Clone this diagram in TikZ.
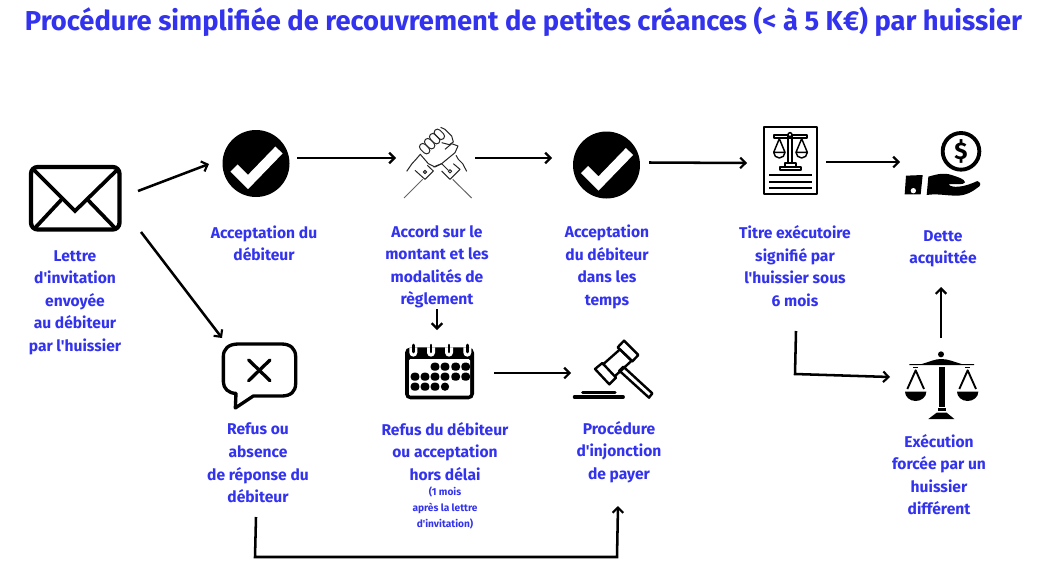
\documentclass[tikz,border=0pt]{standalone}
\usepackage{fontspec}
\newfontfamily\fira{Fira Sans}
\usetikzlibrary{arrows.meta}
\definecolor{tblue}{RGB}{51,51,238}
\tikzset{
  x=.75pt,y=-.75pt,
  lab/.style={inner sep=0pt,align=center,text=tblue,font=\fira\bfseries\fontsize{11.7pt}{16.9pt}\selectfont},
  smalllab/.style={inner sep=0pt,align=center,text=tblue,font=\fira\bfseries\fontsize{7.6pt}{12.2pt}\selectfont},
  iconbox/.style={inner sep=0pt,minimum width=#1,minimum height=#1},
  conn/.style={line width=1.9pt,-{Straight Barb[length=4pt,width=8pt,line width=1.6pt]}},
  ic/.style={scale=1/3,line join=round},
}
\newcommand{\checkicon}{
  \fill[black] (0,0) circle (33.5);
  \draw[white,line width=7.5pt,line join=miter] (-22,4.5) -- (-8,18.5) -- (23,-13.5);
}
\begin{document}
\begin{tikzpicture}
\useasboundingbox (0,0) rectangle (1041,579);
\fill[white] (0,0) rectangle (1041,579);
% title
\node[inner sep=0pt,text=tblue,font=\fira\bfseries\fontsize{20.5pt}{24pt}\selectfont] (title) at (523.5,22) {Procédure simplifiée de recouvrement de petites créances (< à 5 K€) par huissier};

% icon anchors
\node[iconbox=66] (mail) at (75,198) {};
\node[iconbox=67] (chkA) at (256,164) {};
\node[iconbox=70] (hands) at (437,162) {};
\node[iconbox=67] (chkB) at (606.5,165) {};
\node[iconbox=67] (doc) at (790.5,160.5) {};
\node[iconbox=70] (coin) at (943,166) {};
\node[iconbox=70] (bubble) at (259,375) {};
\node[iconbox=60] (cal) at (440,373) {};
\node[iconbox=70] (gavel) at (613,370) {};
\node[iconbox=70] (scales) at (941,385) {};

% envelope
\draw[line width=3.2pt,rounded corners=5] (31,167) rectangle (119.5,229.5);
\draw[line width=2.8pt,line join=miter] (34,170) -- (75,211) -- (117,170);
\draw[line width=2.8pt] (62,199) -- (35,228);
\draw[line width=2.8pt] (87,199) -- (115,228);

% checks
\begin{scope}[shift={(256,163.5)}]\checkicon\end{scope}
\begin{scope}[shift={(606.5,165)}]\checkicon\end{scope}

% hands
\begin{scope}[shift={(400,122)},ic,line width=.75pt,draw=black!85]
  \draw[black!60] (12,228) -- (68,172);
  \draw[black!60] (215,228) -- (158,172);
  \draw (45,145) -- (75,172) -- (100,147) -- (82,130);
  \draw (125,147) -- (150,172) -- (180,142) -- (160,125);
  \draw (75,150) circle (5);
  \draw (150,148) circle (5);
  \draw (20,148) -- (36,125) -- (48,112) -- (60,98);
  \draw (200,148) -- (188,125) -- (175,112) -- (168,100);
  \foreach \cx/\cy in {74/80,89/65,104/50,118/37}
    {\draw[rotate around={-45:(\cx,\cy)},rounded corners=2.5pt] (\cx-18,\cy-10) rectangle (\cx+18,\cy+10);}
  \draw (122,16) -- (135,22) -- (155,42) -- (160,60) -- (148,68) -- (125,62);
  \draw (60,96) -- (85,125) -- (105,135) -- (125,125) -- (165,92) -- (174,72) -- (155,65) -- (135,82);
  \draw (100,135) -- (125,125) -- (145,145);
\end{scope}

% document
\begin{scope}[shift={(755,120)},ic,line width=1.2pt]
  \draw (27,21) rectangle (186,222);
  \draw[line width=1.4pt] (58,44) rectangle (155,55);
  \draw[line width=1.3pt] (100,44) rectangle (111,128);
  \draw[line width=1.3pt] (76,140) rectangle (137,150);
  \draw[line width=1.3pt] (90,128) rectangle (122,140);
  \fill[white,draw=black,line width=1.1pt] (105,44) circle (6);
  \foreach \cx in {73,140}{
    \draw[line width=1.1pt] (\cx,56) -- (\cx-17,97) -- (\cx+17,97) -- cycle;
    \draw[line width=1.1pt] (\cx-17,97) arc[start angle=180,end angle=0,radius=17];
  }
  \foreach \yy in {165,185,205} {\draw[line width=1.4pt] (42,\yy) -- (170,\yy);}
\end{scope}

% coin and hand
\begin{scope}[shift={(900,125)},ic]
  \draw[line width=2.9pt] (183,79) circle (55);
  \node[inner sep=0pt,font=\fira\bfseries\fontsize{18pt}{18pt}\selectfont] (dollar) at (183,80) {\$};
  \fill (18,152) -- (68,150) -- (62,208) -- (14,208) -- cycle;
  \fill[white] (40,197) circle (8);
  \fill (85,155) .. controls (110,148) and (130,142) .. (155,150) .. controls (170,155) and (195,162) .. (195,172) .. controls (190,182) and (165,175) .. (145,178) .. controls (155,190) and (190,188) .. (232,168) .. controls (240,168) and (244,178) .. (238,184) .. controls (220,198) and (200,212) .. (170,212) .. controls (140,212) and (110,205) .. (80,210) -- cycle;
\end{scope}

% speech bubble
\begin{scope}[shift={(200,330)},ic]
  \draw[line width=2.5pt,line join=round]
    (115,42) -- (245,42) .. controls (272,42) and (287,57) .. (287,80) -- (287,160) .. controls (287,185) and (272,198) .. (245,198) -- (160,198) -- (106,234) -- (108,190) .. controls (85,190) and (70,175) .. (70,155) -- (70,80) .. controls (70,57) and (85,42) .. (115,42) -- cycle;
  \draw[line width=2.5pt,line cap=round] (146,90) -- (210,152);
  \draw[line width=2.5pt,line cap=round] (210,90) -- (146,152);
\end{scope}

% calendar
\begin{scope}[shift={(400,340)},ic]
  \fill[rounded corners=4pt] (15,22) rectangle (222,178);
  \fill[white,rounded corners=1pt] (27,57) rectangle (210,167);
  \foreach \xx in {40,93,147,202}{
    \fill[white] (\xx-12,22) -- (\xx-12,38) arc[start angle=180,end angle=0,radius=12] -- (\xx+12,22) -- cycle;
    \draw[line width=1.9pt,line cap=round] (\xx,15) -- (\xx,36);
  }
  \foreach \xx in {105,135,167,197} {\fill[rounded corners=2.5pt] (\xx-13,68) rectangle (\xx+13,92);}
  \foreach \xx in {45,75,105,135,167,197} {\fill[rounded corners=2.5pt] (\xx-13,98) rectangle (\xx+13,122);}
  \foreach \xx in {45,75,105} {\fill[rounded corners=2.5pt] (\xx-13,128) rectangle (\xx+13,152);}
  \fill (135,140) circle (12.5);
\end{scope}

% gavel
\begin{scope}[shift={(480,330)},ic,line width=1.8pt]
  \draw[line width=2.3pt,line cap=round] (283,201) -- (430,201);
  \draw[line width=2.3pt,line cap=round] (308,187) -- (405,187);
  \draw (345,117) -- (367,99) -- (408,143) -- (388,163) -- cycle;
  \draw (413,52) -- (432,32) -- (475,75) -- (457,94) -- cycle;
  \draw (367,105) -- (420,58) -- (455,92) -- (403,140);
  \draw (418,122) -- (430,110) -- (517,190) -- (507,203) -- cycle;
\end{scope}

% big scales
\begin{scope}[shift={(900,345)},ic]
  \fill (123,28) circle (9);
  \fill (28,57) -- (65,57) .. controls (90,50) and (105,42) .. (123,42) .. controls (145,42) and (160,50) .. (185,57) -- (222,57) -- (222,60) -- (28,60) -- cycle;
  \fill (117,67) rectangle (134,187);
  \fill (113,190) rectangle (138,197);
  \fill (85,222) -- (110,203) -- (140,203) -- (163,222) -- cycle;
  \foreach \cx in {47,203}{
    \fill (\cx-32,140) arc[start angle=180,end angle=0,x radius=32,y radius=28] -- cycle;
    \draw[line width=1.4pt] (\cx-25,132) -- (\cx,76) -- (\cx+25,132);
    \fill (\cx-7,66) rectangle (\cx+7,70);
  }
\end{scope}

% labels
\node[lab] (t1) at (75,302.5) {Lettre\\d'invitation\\envoyée\\au débiteur\\par l'huissier};
\node[lab] (t2) at (264,243.5) {Acceptation du\\débiteur};
\node[lab] (t3) at (437,267) {Accord sur le\\montant et les\\modalités de\\règlement};
\node[lab] (t4) at (607,267) {Acceptation\\du débiteur\\dans les\\temps};
\node[lab] (t5) at (795,266) {Titre exécutoire\\signifié par\\l'huissier sous\\6 mois};
\node[lab] (t6) at (943,249) {Dette\\acquittée};
\node[lab] (t7) at (258,463) {Refus ou\\absence\\de réponse du\\débiteur};
\node[lab] (t8) at (445,451.5) {Refus du débiteur\\ou acceptation\\hors délai};
\node[smalllab] (t8b) at (445,508) {(1 mois\\après la lettre\\d'invitation)};
\node[lab] (t9) at (619,452) {Procédure\\d'injonction\\de payer};
\node[lab] (t10) at (939,474.5) {Exécution\\forcée par un\\huissier\\différent};

% connector ends
\coordinate (mailA) at (138,191);
\coordinate (chkAin) at (209,164);
\coordinate (mailB) at (141,232);
\coordinate (bubblein) at (222,338);
\coordinate (chkAout) at (297,158);
\coordinate (handsin) at (396,158);
\coordinate (handsout) at (475,158);
\coordinate (chkBin) at (552,158);
\coordinate (chkBout) at (649,162.5);
\coordinate (docin) at (747,163);
\coordinate (docout) at (826,162);
\coordinate (coinin) at (900,162);
\coordinate (accord) at (437,309);
\coordinate (calin) at (437,330);
\coordinate (calout) at (494,373);
\coordinate (gavelin) at (571,373);
\coordinate (refus) at (256,517);
\coordinate (c1) at (255,557);
\coordinate (c2) at (617,557);
\coordinate (procin) at (618,506);
\coordinate (titre) at (796,331);
\coordinate (c3) at (795,374);
\coordinate (execin) at (890,377);
\coordinate (execout) at (941,338);
\coordinate (detteIn) at (941,287);

\draw[conn] (mailA) -- (chkAin);
\draw[conn] (mailB) -- (bubblein);
\draw[conn] (chkAout) -- (handsin);
\draw[conn] (handsout) -- (chkBin);
\draw[conn] (chkBout) -- (docin);
\draw[conn] (docout) -- (coinin);
\draw[conn] (accord) -- (calin);
\draw[conn] (calout) -- (gavelin);
\draw[conn] (refus) -- (c1) -- (c2) -- (procin);
\draw[conn] (titre) -- (c3) -- (execin);
\draw[conn] (execout) -- (detteIn);
\end{tikzpicture}
\end{document}
